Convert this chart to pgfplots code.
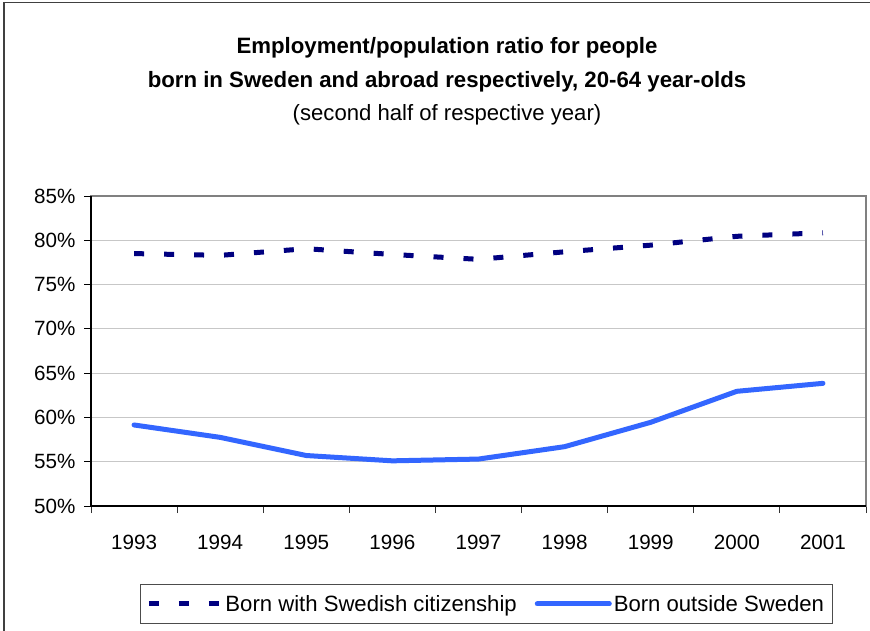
\documentclass[border=0pt]{standalone}
\usepackage{fontspec}
\setmainfont{Liberation Sans}
\usepackage{pgfplots}
\pgfplotsset{compat=1.18}
\definecolor{navyline}{HTML}{000080}
\definecolor{blueline}{HTML}{3366FF}
\begin{document}
\begin{tikzpicture}
\useasboundingbox (0,0) rectangle (870bp,-631bp);
\draw[line width=1.3bp, black!75] (4bp,-640bp) -- (4bp,-2.5bp) -- (880bp,-2.5bp);
\node[anchor=base, font=\fontsize{22.3}{26}\selectfont\bfseries] at (447bp,-53bp) {Employment/population ratio for people};
\node[anchor=base, font=\fontsize{22.3}{26}\selectfont\bfseries] at (447bp,-87bp) {born in Sweden and abroad respectively, 20-64 year-olds};
\node[anchor=base, font=\fontsize{22.2}{26}\selectfont] at (447bp,-120bp) {(second half of respective year)};
\begin{axis}[
  at={(91bp,-506bp)}, anchor=south west,
  width=775bp, height=310bp, scale only axis,
  xmin=-0.5, xmax=8.5, ymin=50, ymax=85,
  xtick={0,1,2,3,4,5,6,7,8},
  xticklabels={1993,1994,1995,1996,1997,1998,1999,2000,2001},
  minor xtick={-0.5,0.5,1.5,2.5,3.5,4.5,5.5,6.5,7.5,8.5},
  ytick={50,55,60,65,70,75,80,85},
  yticklabels={50\%,55\%,60\%,65\%,70\%,75\%,80\%,85\%},
  tick pos=left, tick align=outside,
  major tick length=7bp, minor tick length=7bp,
  major x tick style={draw=none},
  minor x tick style={black!80, line width=1bp},
  ytick style={black, line width=1bp},
  ymajorgrids, major grid style={color=black!22, line width=1bp},
  axis line style={draw=black!50, line width=2bp},
  ticklabel style={font=\fontsize{20.7}{24}\selectfont},
  xticklabel style={yshift=-19bp},
  yticklabel style={xshift=-5bp},
  clip=false,
  legend columns=2,
  legend style={at={(0.510,-0.316)}, anchor=center, draw=black!70, line width=1bp,
    font=\fontsize{22.2}{26}\selectfont, inner xsep=6bp, inner ysep=9bp,
    /tikz/every even column/.append style={column sep=16bp}},
  legend image code/.code={\draw[#1] (0bp,0bp) -- (72bp,0bp);},
]
\addplot[navyline, line width=5bp, dash pattern=on 10bp off 20bp] coordinates {
(0,78.5) (1,78.3) (2,79.05) (3,78.4) (4,77.85) (5,78.7) (6,79.45) (7,80.45) (8,80.85)};
\addlegendentry{Born with Swedish citizenship}
\addplot[blueline, line width=5bp, line cap=round, line join=round] coordinates {
(0,59.15) (1,57.75) (2,55.7) (3,55.1) (4,55.3) (5,56.7) (6,59.45) (7,62.95) (8,63.85)};
\addlegendentry{Born outside Sweden}
\draw[black, line width=1.5bp] (rel axis cs:0,1) -- (rel axis cs:0,0) -- (rel axis cs:1,0);
\end{axis}
\end{tikzpicture}
\end{document}
